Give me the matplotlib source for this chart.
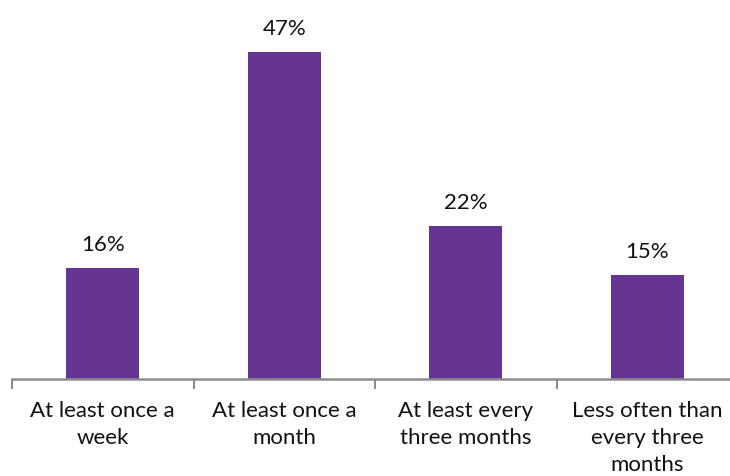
import matplotlib
matplotlib.use("Agg")
import matplotlib.pyplot as plt

categories = ["At least once a\nweek", "At least once a\nmonth",
              "At least every\nthree months", "Less often than\nevery three\nmonths"]
values = [16, 47, 22, 15]
value_labels = ["16%", "47%", "22%", "15%"]

plt.rcParams["font.family"] = ["Lato", "DejaVu Sans"]

fig = plt.figure(figsize=(7.30, 4.77), dpi=100)
ax = fig.add_axes([12 / 730, 97 / 477, 726 / 730, 347.5 / 477])

bar_color = "#663492"
axis_color = "#8c8c8c"
text_color = "#111111"

x = range(len(categories))
ax.bar(x, values, width=0.4, color=bar_color)
for xi, v, lab in zip(x, values, value_labels):
    ax.annotate(lab, (xi, v), xytext=(0, 10), textcoords="offset points",
                ha="center", va="bottom", fontsize=16, color=text_color)

ax.set_xlim(-0.5, len(categories) - 0.5)
ax.set_ylim(0, 50)
ax.set_xticks([i + 0.5 for i in range(-1, len(categories))], minor=False)
ax.set_xticklabels([])
ax.set_xticks(list(x), minor=True)
ax.set_xticklabels(categories, minor=True, fontsize=16, color=text_color,
                   linespacing=1.45)
ax.tick_params(axis="x", which="major", length=7, width=1.5, color=axis_color,
               direction="out")
ax.tick_params(axis="x", which="minor", length=0, pad=15)
ax.set_yticks([])
for side in ["top", "right", "left"]:
    ax.spines[side].set_visible(False)
ax.spines["bottom"].set_color(axis_color)
ax.spines["bottom"].set_linewidth(1.8)

fig.savefig("out.png", dpi=100)
